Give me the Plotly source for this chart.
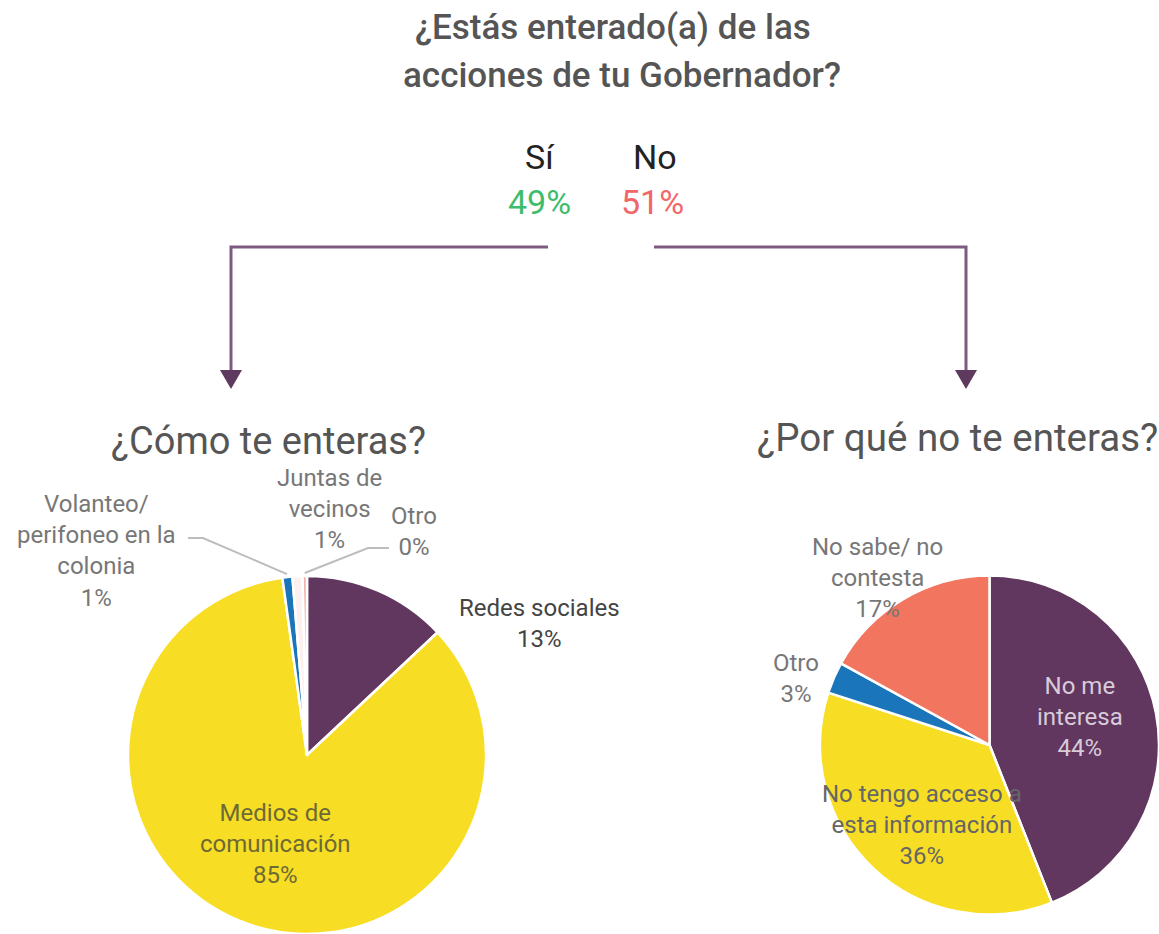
import math
import plotly.graph_objects as go

# ---------------- data ----------------
title_lines = ["¿Estás enterado(a) de las", "acciones de tu Gobernador?"]
answer_labels = ["Sí", "No"]
answer_pct = [49, 51]

left_title = "¿Cómo te enteras?"
left_labels = ["Redes sociales", "Medios de<br>comunicación", "Volanteo/<br>perifoneo en la<br>colonia",
               "Juntas de<br>vecinos", "Otro"]
left_values = [13, 84.8, 0.9, 0.9, 0.4]
left_pct = [13, 85, 1, 1, 0]
left_colors = ["#61375F", "#F7DE25", "#1B75BB", "#FDF1EF", "#F3B5AC"]

right_title = "¿Por qué no te enteras?"
right_labels = ["No me<br>interesa", "No tengo acceso a<br>esta información", "Otro", "No sabe/ no<br>contesta"]
right_values = [44, 36, 3, 17]
right_pct = [44, 36, 3, 17]
right_colors = ["#61375F", "#F7DE25", "#1B75BB", "#F1755F"]

W, H = 1159, 934
FONT = "Roboto"
LINE = "#7E5A80"

fig = go.Figure()

# pies (pixel geometry -> paper domains)
L_CX, L_CY, L_R = 307, 755, 179
R_CX, R_CY, R_R = 989.5, 745, 169.5


def dom(cx, cy, r):
    x0, x1 = (cx - r) / W, min((cx + r) / W, 1)
    y0, y1 = max((H - cy - r) / H, 0), (H - cy + r) / H
    return dict(x=[x0, x1], y=[y0, y1])


fig.add_trace(go.Pie(values=left_values, labels=left_labels, sort=False, direction="clockwise",
                     rotation=0, marker=dict(colors=left_colors, line=dict(color="white", width=2.5)),
                     textinfo="none", hoverinfo="label+percent", domain=dom(L_CX, L_CY, L_R),
                     showlegend=False))
fig.add_trace(go.Pie(values=right_values, labels=right_labels, sort=False, direction="clockwise",
                     rotation=0, marker=dict(colors=right_colors, line=dict(color="white", width=2.5)),
                     textinfo="none", hoverinfo="label+percent", domain=dom(R_CX, R_CY, R_R),
                     showlegend=False))

# invisible pixel axes for decorations
fig.update_layout(
    width=W, height=H, margin=dict(l=0, r=0, t=0, b=0),
    paper_bgcolor="white", plot_bgcolor="rgba(0,0,0,0)",
    xaxis=dict(range=[0, W], visible=False, fixedrange=True),
    yaxis=dict(range=[H, 0], visible=False, fixedrange=True),
    font=dict(family=FONT),
)


def txt(x, y, text, size, color, weight=None):
    f = dict(family=FONT, size=size, color=color)
    if weight:
        f["weight"] = weight
    fig.add_annotation(x=x, y=y, xref="x", yref="y", text=text, showarrow=False,
                       font=f, align="center", xanchor="center", yanchor="middle")


# title
txt(613, 27, title_lines[0], 35, "#555555", 500)
txt(622, 75, title_lines[1], 35, "#555555", 500)
txt(540, 157, answer_labels[0], 34, "#222222")
txt(655, 157, answer_labels[1], 34, "#222222")
txt(539, 202, f"{answer_pct[0]}%", 34, "#3DBD6C")
txt(652, 202, f"{answer_pct[1]}%", 34, "#F2666A")

# arrows
fig.add_shape(type="path", path="M 548 247 L 231 247 L 231 372", line=dict(color=LINE, width=3))
fig.add_shape(type="path", path="M 654 247 L 966 247 L 966 372", line=dict(color=LINE, width=3))
fig.add_shape(type="path", path="M 220 370 L 242 370 L 231 389 Z", fillcolor="#5E3A5E", line=dict(width=0))
fig.add_shape(type="path", path="M 955 370 L 977 370 L 966 389 Z", fillcolor="#5E3A5E", line=dict(width=0))

# sub titles
txt(268, 441, left_title, 38, "#555555")
txt(957, 437, right_title, 38.5, "#555555")

LAB = 24


def lab(i, x, y, labels, pct, color):
    txt(x, y, f"{labels[i]}<br>{pct[i]}%", LAB, color)


def edge_point(values, i, cx, cy, r):
    tot = sum(values)
    mid = (sum(values[:i]) + values[i] / 2) / tot * 2 * math.pi
    return cx + r * math.sin(mid), cy - r * math.cos(mid)


# left pie labels
lab(0, 539, 623, left_labels, left_pct, "#444444")
lab(1, 275, 844, left_labels, left_pct, "#6E6A35")
lab(2, 96, 551, left_labels, left_pct, "#777777")
lab(3, 329, 509, left_labels, left_pct, "#777777")
lab(4, 414, 531, left_labels, left_pct, "#777777")

# leader lines
px, py = edge_point(left_values, 2, L_CX, L_CY, L_R + 3)
fig.add_shape(type="path", path=f"M 188 538 L 203 538 L {px:.1f} {py:.1f}",
              line=dict(color="#BDBDBD", width=2))
px, py = edge_point(left_values, 4, L_CX, L_CY, L_R + 3)
fig.add_shape(type="path", path=f"M 389 548 L 368 548 L {px:.1f} {py:.1f}",
              line=dict(color="#BDBDBD", width=2))

# right pie labels
lab(0, 1080, 717, right_labels, right_pct, "#D9CBD9")
lab(1, 922, 825, right_labels, right_pct, "#666666")
lab(2, 796, 678, right_labels, right_pct, "#777777")
lab(3, 877, 578, right_labels, right_pct, "#777777")

fig.write_html("out.html", config={"displayModeBar": False},
               post_script="document.body.style.margin='0';document.body.style.overflow='hidden';")
